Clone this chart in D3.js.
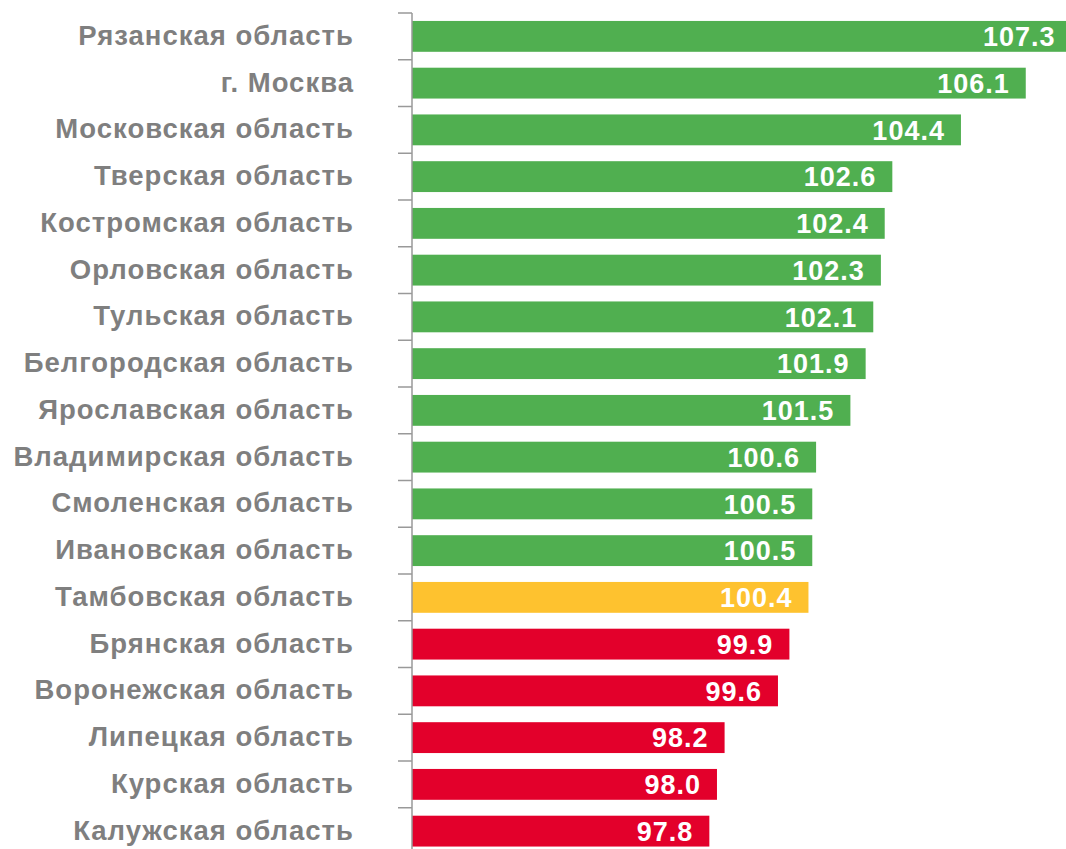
<!DOCTYPE html>
<html><head><meta charset="utf-8">
<script src="https://cdn.jsdelivr.net/npm/d3@7"></script>
<style>body{margin:0;background:#fff}svg{display:block}</style>
</head><body>
<svg id="c" width="1066" height="849"></svg>
<script>
const regions = ["Рязанская область","г. Москва","Московская область","Тверская область","Костромская область","Орловская область","Тульская область","Белгородская область","Ярославская область","Владимирская область","Смоленская область","Ивановская область","Тамбовская область","Брянская область","Воронежская область","Липецкая область","Курская область","Калужская область"];
const values = [107.3,106.1,104.4,102.6,102.4,102.3,102.1,101.9,101.5,100.6,100.5,100.5,100.4,99.9,99.6,98.2,98.0,97.8];
const highlight = "Тамбовская область";
const baseline = 100.4;
const xMin = 90;

const svg = d3.select("#c");
const x = d3.scaleLinear().domain([xMin, 107.3]).range([412, 1071.5]);
const step = 46.75;
const y = d3.scaleBand().domain(regions).range([13, 13 + regions.length*step]).paddingInner(0.34).paddingOuter(0.17);
const color = (r,v) => r === highlight ? "#FEC22F" : (v > baseline ? "#50AF50" : "#E3002B");

svg.selectAll("rect.bar").data(regions).join("rect")
  .attr("x", x(xMin)).attr("y", d => y(d))
  .attr("width", (d,i) => x(values[i]) - x(xMin))
  .attr("height", y.bandwidth())
  .attr("fill", (d,i) => color(d, values[i]));

const g = svg.append("g");
g.append("line").attr("x1",412).attr("x2",412).attr("y1",13).attr("y2",849).attr("stroke","#999").attr("stroke-width",1.5);
d3.range(regions.length).forEach(i => {
  const yy = 13 + i*step;
  g.append("line").attr("x1",398).attr("x2",412).attr("y1",yy).attr("y2",yy).attr("stroke","#999").attr("stroke-width",1.5);
});

svg.selectAll("text.cat").data(regions).join("text")
  .attr("x", 354).attr("y", d => y(d) + y.bandwidth()/2 - 1.5)
  .attr("dy", "0.36em").attr("text-anchor","end")
  .attr("font-family","Liberation Sans, Arial, sans-serif").attr("font-weight","bold")
  .attr("font-size", 27.5).attr("letter-spacing", 1).attr("fill","#7F7F7F")
  .text(d => d);

svg.selectAll("text.val").data(regions).join("text")
  .attr("x", (d,i) => x(values[i]) - 16).attr("y", d => y(d) + y.bandwidth()/2)
  .attr("dy", "0.36em").attr("text-anchor","end")
  .attr("font-family","Liberation Sans, Arial, sans-serif").attr("font-weight","bold")
  .attr("font-size", 27).attr("letter-spacing", 1).attr("fill","#fff")
  .text((d,i) => values[i].toFixed(1));
</script>
</body></html>
